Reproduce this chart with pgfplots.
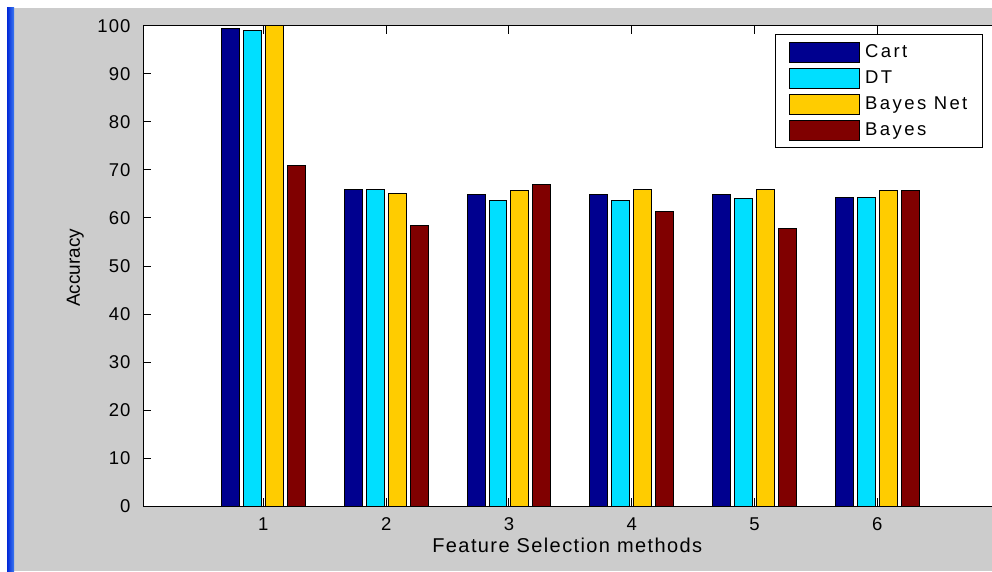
\documentclass[border=0pt]{standalone}
\usepackage{fontspec}
\setmainfont{Liberation Sans}
\newfontfamily\tickfont[LetterSpace=6]{Liberation Sans}
\newfontfamily\legfont[LetterSpace=13]{Liberation Sans}
\newfontfamily\xlabfont[LetterSpace=7]{Liberation Sans}
\usepackage{pgfplots}
\pgfplotsset{compat=1.18}
\definecolor{bgray}{HTML}{CCCCCC}
\definecolor{cartc}{HTML}{00008F}
\definecolor{dtc}{HTML}{00DFFF}
\definecolor{bnc}{HTML}{FFCC00}
\definecolor{bayc}{HTML}{800000}
\definecolor{winblueA}{HTML}{0028D8}
\definecolor{winblueB}{HTML}{3C78F0}
\begin{document}
\begin{tikzpicture}[x=1pt,y=1pt]
\fill[white] (0,0) rectangle (992,571);
\fill[bgray] (14,0) rectangle (992,563);
\shade[left color=winblueA, right color=winblueB] (7,0) rectangle (14,563);
\begin{axis}[
  at={(143pt,65pt)}, anchor=south west,
  x=122.8pt, y=4.8pt,
  xmin=0.02, xmax=7, ymin=0, ymax=100,
  xtick={1,2,3,4,5,6},
  ytick={0,10,20,30,40,50,60,70,80,90,100},
  tick align=inside,
  major tick length=8pt,
  tick style={black, line width=1pt},
  axis line style={line width=1pt},
  axis background/.style={fill=white},
  /pgf/number format/assume math mode=true,
  tick label style={font=\tickfont\fontsize{18.5}{21}\selectfont},
  yticklabel style={xshift=-9pt},
  xticklabel style={yshift=-8pt},
  xlabel={Feature Selection methods},
  ylabel={Accuracy},
  every axis x label/.style={at={(axis description cs:0.495,-0.083)}, anchor=center, font=\xlabfont\fontsize{20}{24}\selectfont},
  every axis y label/.style={at={(axis description cs:-0.079,0.496)}, rotate=90, anchor=center, font=\fontsize{19}{23}\selectfont},
  legend image code/.code={\draw[#1, draw=black, line width=1pt] (0pt,-10pt) rectangle (70pt,10pt);},
  legend style={
    at={(axis description cs:0.737,0.983)}, anchor=north west,
    draw=black, line width=1pt, fill=white,
    font=\legfont\fontsize{18.5}{21}\selectfont,
    row sep=5pt, column sep=4pt, inner xsep=14pt, inner ysep=7pt,
    nodes={inner sep=1pt, anchor=west},
  },
  legend cell align=left,
]
\addplot[ybar, bar width=0.146, bar shift=-0.268, fill=cartc, draw=black, line width=1pt]
  coordinates {(1,99.4) (2,66.0) (3,64.9) (4,64.9) (5,64.9) (6,64.3)};
\addplot[ybar, bar width=0.146, bar shift=-0.089, fill=dtc, draw=black, line width=1pt]
  coordinates {(1,99.1) (2,66.0) (3,63.7) (4,63.7) (5,64.0) (6,64.3)};
\addplot[ybar, bar width=0.146, bar shift=0.089, fill=bnc, draw=black, line width=1pt]
  coordinates {(1,100) (2,65.1) (3,65.8) (4,66.0) (5,66.0) (6,65.8)};
\addplot[ybar, bar width=0.146, bar shift=0.268, fill=bayc, draw=black, line width=1pt]
  coordinates {(1,71.0) (2,58.5) (3,66.9) (4,61.4) (5,57.8) (6,65.8)};
\legend{Cart, DT, Bayes Net, Bayes}
\end{axis}
\pgfresetboundingbox
\useasboundingbox (0,0) rectangle (992,571);
\end{tikzpicture}
\end{document}
